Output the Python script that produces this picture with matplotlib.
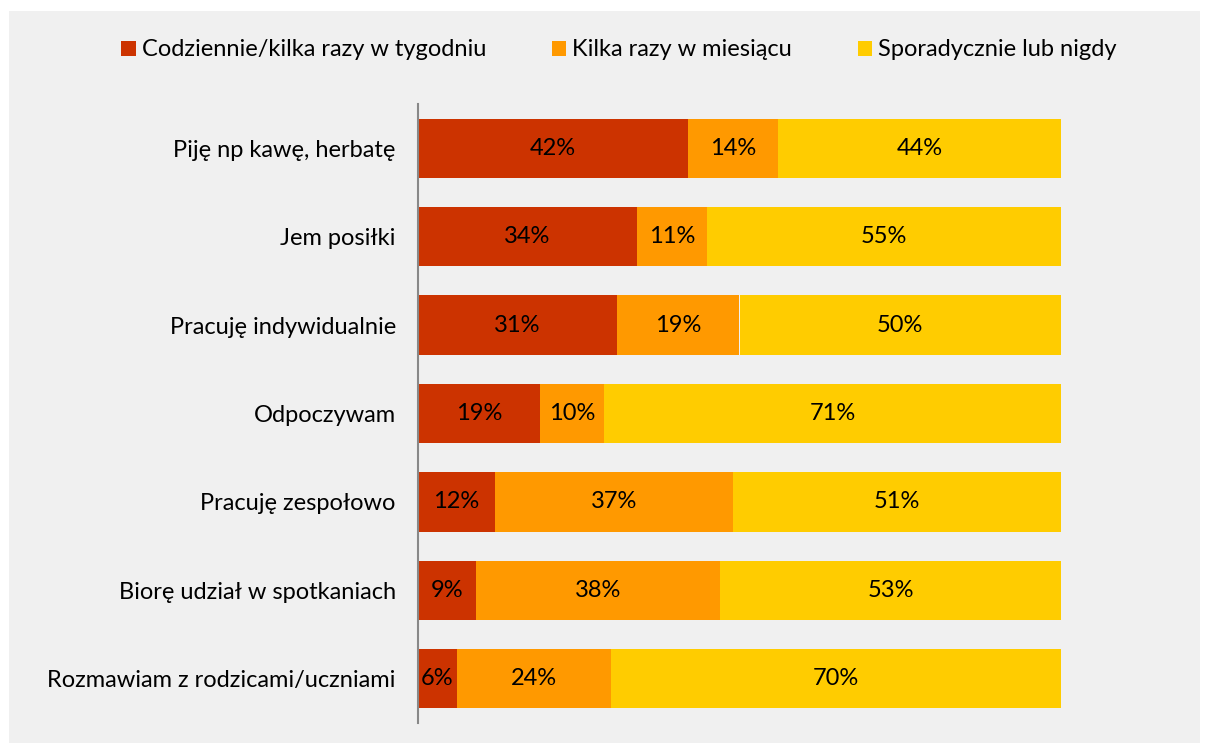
import matplotlib.pyplot as plt
from matplotlib.patches import Rectangle

categories = [
    "Piję np kawę, herbatę",
    "Jem posiłki",
    "Pracuję indywidualnie",
    "Odpoczywam",
    "Pracuję zespołowo",
    "Biorę udział w spotkaniach",
    "Rozmawiam z rodzicami/uczniami",
]
daily = [42, 34, 31, 19, 12, 9, 6]
monthly = [14, 11, 19, 10, 37, 38, 24]
rarely = [44, 55, 50, 71, 51, 53, 70]
series_names = ["Codziennie/kilka razy w tygodniu", "Kilka razy w miesiącu", "Sporadycznie lub nigdy"]
colors = ["#CC3300", "#FF9900", "#FFCC00"]

plt.rcParams["font.family"] = ["Lato", "DejaVu Sans"]
BG = "#F0F0F0"

fig = plt.figure(figsize=(12.05, 7.43), dpi=100)
fig.patch.set_facecolor("white")
fig.patches.append(Rectangle((9 / 1205, 0), 1191 / 1205, 732 / 743,
                             transform=fig.transFigure, facecolor=BG, edgecolor="none", zorder=-1))

ax = fig.add_axes([418 / 1205, 20 / 743, 643 / 1205, 619 / 743])
ax.set_zorder(1)
ax.patch.set_alpha(0)

y = list(range(len(categories)))
left = [0] * len(categories)
for name, vals, c in zip(series_names, [daily, monthly, rarely], colors):
    bars = ax.barh(y, vals, left=left, height=0.67, color=c, label=name, edgecolor="none")
    for b, v in zip(bars, vals):
        ax.text(b.get_x() + b.get_width() / 2, b.get_y() + b.get_height() / 2, f"{v}%",
                ha="center", va="center", fontsize=17, color="black")
    left = [l + v for l, v in zip(left, vals)]

ax.set_xlim(0, 100)
ax.set_ylim(6.5, -0.5)
ax.set_yticks(y)
ax.set_yticklabels(categories, fontsize=17)
ax.tick_params(axis="y", length=0, pad=16)
ax.set_xticks([])
for s in ["top", "right", "bottom"]:
    ax.spines[s].set_visible(False)
ax.spines["left"].set_color("#888888")
ax.spines["left"].set_linewidth(1.5)

fig.legend(loc="center", bbox_to_anchor=(619 / 1205, 1 - 50 / 743), ncol=3, frameon=False,
           fontsize=17, handlelength=0.6, handleheight=0.6, handletextpad=0.25, columnspacing=2.8)

fig.savefig("out.png", dpi=100, facecolor=fig.get_facecolor())
